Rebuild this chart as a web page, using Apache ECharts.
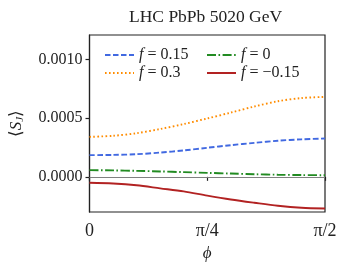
<!DOCTYPE html>
<html><head><meta charset="utf-8">
<script src="https://cdn.jsdelivr.net/npm/echarts@6/dist/echarts.min.js"></script>
<style>html,body{margin:0;padding:0;background:#fff}#c{width:348px;height:269px}</style>
</head><body><div id="c"></div>
<script>
var phi = [0, 0.1571, 0.3142, 0.4712, 0.6283, 0.7854, 0.9425, 1.0996, 1.2566, 1.4137, 1.5708];
var sF015 = [0.000185, 0.000187, 0.000193, 0.000207, 0.000225, 0.000248, 0.000270, 0.000290, 0.000308, 0.000320, 0.000327];
var sF03 = [0.000341, 0.000350, 0.000372, 0.000408, 0.000450, 0.000498, 0.000548, 0.000600, 0.000645, 0.000672, 0.000682];
var sF0 = [0.000057, 0.000055, 0.000051, 0.000046, 0.000040, 0.000034, 0.000028, 0.000022, 0.000018, 0.000015, 0.000014];
var sFm015 = [-0.000051, -0.000057, -0.000072, -0.000098, -0.000124, -0.000160, -0.000193, -0.000221, -0.000247, -0.000264, -0.000270];
var yTicks = [0, 0.0005, 0.0010];
var xTicks = [0, 0.7854, 1.5708];
var xTickLabels = ['0', 'π/4', 'π/2'];
var names = ['f = 0.15', 'f = 0.3', 'f = 0', 'f = −0.15'];

var FONT = 'Liberation Serif';
function pairs(ys){ return phi.map(function(x,i){ return [x, ys[i]]; }); }
function mk(name, ys, color, type){
  return {name:name, type:'line', data:pairs(ys), symbol:'none', smooth:0.3,
    lineStyle:{color:color, width:1.9, type:type}, itemStyle:{color:color}};
}
var series = [
  mk(names[0], sF015, '#4169E1', [5.5,2.5]),
  mk(names[1], sF03, '#FF8C00', [1.6,2.4]),
  mk(names[2], sF0, '#228B22', [9,2.5,1.6,2.5]),
  mk(names[3], sFm015, '#B22222', 'solid')
];
series[3].markLine = {silent:true, symbol:'none', label:{show:false},
  lineStyle:{color:'#808080', width:1.2, type:'solid'}, data:[{yAxis:0}]};

function legendFmt(n){ return '{i|f}{n|' + n.slice(1) + '}'; }
var legendRich = {
  i:{fontFamily:FONT, fontStyle:'italic', fontSize:16, color:'#222'},
  n:{fontFamily:FONT, fontSize:16, color:'#222'}
};
function legend(left, data){
  return {left:left, top:42, orient:'vertical', itemGap:2, itemWidth:29, itemHeight:15,
    data:data, formatter:legendFmt, textStyle:{rich:legendRich},
    itemStyle:{opacity:0}, selectedMode:false};
}

var chart = echarts.init(document.getElementById('c'), null, {renderer:'canvas'});
chart.setOption({
  animation:false,
  title:{text:'LHC PbPb 5020 GeV', left:124, top:3,
    textStyle:{fontFamily:FONT, fontSize:17.5, fontWeight:'normal', color:'#222'}},
  legend:[legend(99, [names[0], names[1]]), legend(201, [names[2], names[3]])],
  grid:{left:87, right:23, top:35, bottom:57, show:true, borderColor:'#222', borderWidth:1.2, backgroundColor:'transparent'},
  xAxis:{type:'value', min:0, max:1.5708,
    name:'ϕ', nameLocation:'middle', nameGap:33,
    nameTextStyle:{fontFamily:FONT, fontStyle:'italic', fontSize:17, color:'#222'},
    axisLine:{show:true, lineStyle:{color:'#222', width:1.2}},
    axisTick:{show:true, length:4, inside:false, customValues:xTicks, lineStyle:{color:'#222', width:1.2}},
    axisLabel:{customValues:xTicks, margin:10, fontFamily:FONT, fontSize:18, color:'#222',
      formatter:function(v){ for(var i=0;i<xTicks.length;i++){ if(Math.abs(v-xTicks[i])<1e-3) return xTickLabels[i]; } return ''; }},
    splitLine:{show:false}},
  yAxis:{type:'value', min:-0.0003, max:0.00121,
    name:'⟨{i|S}{s|J}⟩', nameLocation:'middle', nameGap:64, nameRotate:90,
    nameTextStyle:{fontFamily:FONT, fontSize:17, color:'#222',
      rich:{i:{fontFamily:FONT, fontStyle:'italic', fontSize:17, color:'#222'},
            s:{fontFamily:FONT, fontStyle:'italic', fontSize:11, color:'#222', verticalAlign:'bottom', padding:[7,0,0,0]}}},
    axisLine:{show:true, lineStyle:{color:'#222', width:1.2}},
    axisTick:{show:true, length:4, inside:false, customValues:yTicks, lineStyle:{color:'#222', width:1.2}},
    axisLabel:{customValues:yTicks, margin:7, fontFamily:FONT, fontSize:16, color:'#222',
      formatter:function(v){ return v.toFixed(4); }},
    splitLine:{show:false}},
  series:series
});
</script></body></html>
